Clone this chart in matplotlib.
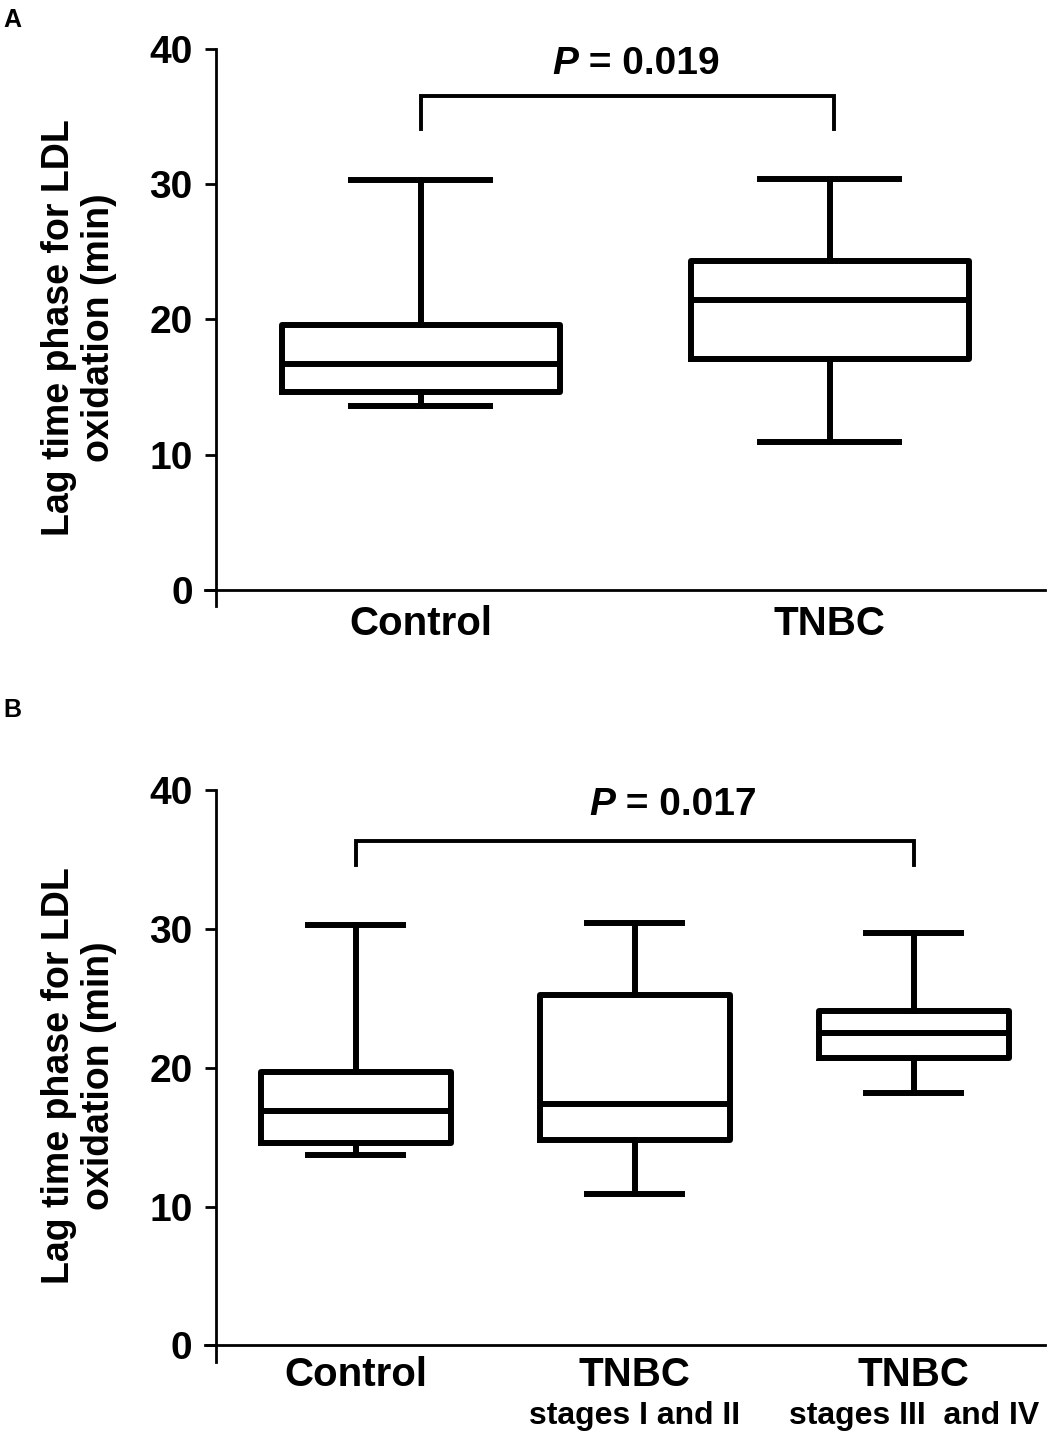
import matplotlib.pyplot as plt

plt.rcParams['font.family'] = ['Liberation Sans', 'DejaVu Sans']
plt.rcParams['font.weight'] = 'bold'

# Panel A data (min, q1, median, q3, max)
groups_a = ['Control', 'TNBC']
whislo_a = [13.6, 10.9]
q1_a = [14.6, 17.1]
med_a = [16.7, 21.4]
q3_a = [19.6, 24.3]
whishi_a = [30.3, 30.4]
p_a = '= 0.019'

# Panel B data
groups_b = ['Control', 'TNBC', 'TNBC']
sub_b = ['', 'stages I and II', 'stages III  and IV']
whislo_b = [13.7, 10.9, 18.2]
q1_b = [14.6, 14.8, 20.7]
med_b = [16.9, 17.4, 22.5]
q3_b = [19.7, 25.2, 24.1]
whishi_b = [30.3, 30.4, 29.7]
p_b = '= 0.017'

yticks = [0, 10, 20, 30, 40]
ylabel = 'Lag time phase for LDL\noxidation (min)'


def make_stats(lo, q1, med, q3, hi):
    return [dict(whislo=a, q1=b, med=c, q3=d, whishi=e, fliers=[])
            for a, b, c, d, e in zip(lo, q1, med, q3, hi)]


def draw_panel(ax, stats, names, xlim, bracket, ptext_x, ptext, xpad):
    n = len(stats)
    pos = list(range(1, n + 1))
    lw = 4.3
    ax.bxp(stats, positions=pos, widths=0.68, showfliers=False,
           boxprops=dict(color='black', linewidth=lw),
           medianprops=dict(color='black', linewidth=lw),
           whiskerprops=dict(color='black', linewidth=lw),
           capprops=dict(color='black', linewidth=lw))
    ax.set_xlim(*xlim)
    ax.set_ylim(-1.2, 40)
    ax.set_yticks(yticks)
    ax.set_xticks(pos)
    ax.set_xticklabels(names)
    ax.tick_params(axis='x', length=0, pad=xpad, labelsize=29)
    ax.tick_params(axis='y', length=8, width=2, labelsize=28, pad=9)
    for t in ax.get_yticklabels() + ax.get_xticklabels():
        t.set_fontweight('bold')
    ax.spines['top'].set_visible(False)
    ax.spines['right'].set_visible(False)
    ax.spines['left'].set_position(('data', 0.5))
    ax.spines['left'].set_bounds(-1.2, 40)
    ax.spines['bottom'].set_position(('data', 0))
    ax.spines['left'].set_linewidth(2)
    ax.spines['bottom'].set_linewidth(2)
    ax.set_ylabel(ylabel, fontsize=27, fontweight='bold', linespacing=1.15,
                  va='center')
    ax.yaxis.set_label_coords((79 - 205) / 840, 0.5)
    # significance bracket
    x1, x2, ytop, yend = bracket
    ax.plot([x1, x1, x2, x2], [yend, ytop, ytop, yend], color='black',
            lw=2.8, clip_on=False, solid_joinstyle='miter')
    ax.text(ptext_x, 38.9, 'P', fontsize=28, fontweight='bold',
            fontstyle='italic', ha='right', va='center')
    ax.text(ptext_x, 38.9, ' ' + ptext, fontsize=28, fontweight='bold',
            ha='left', va='center')


fig = plt.figure(figsize=(10.57, 14.36), dpi=100)

ax1 = fig.add_axes([205 / 1057, 1 - 606 / 1436, 840 / 1057, (606 - 49) / 1436])
draw_panel(ax1, make_stats(whislo_a, q1_a, med_a, q3_a, whishi_a), groups_a,
           (0.472, 2.526), (1.0, 2.01, 36.5, 34.1), 1.385, p_a, 11)

ax2 = fig.add_axes([205 / 1057, 1 - 1362 / 1436, 840 / 1057, (1362 - 790) / 1436])
draw_panel(ax2, make_stats(whislo_b, q1_b, med_b, q3_b, whishi_b), groups_b,
           (0.46, 3.47), (1.0, 3.0, 36.3, 34.6), 1.93, p_b, 8)
for i, s in enumerate(sub_b):
    if s:
        ax2.text(i + 1, -5.1, s, fontsize=23, fontweight='bold',
                 ha='center', va='center')

fig.text(12 / 1057, 1 - 20 / 1436, 'A', fontsize=18, fontweight='bold',
         ha='center', va='center')
fig.text(12 / 1057, 1 - 710 / 1436, 'B', fontsize=18, fontweight='bold',
         ha='center', va='center')

fig.savefig('out.png', dpi=100)
